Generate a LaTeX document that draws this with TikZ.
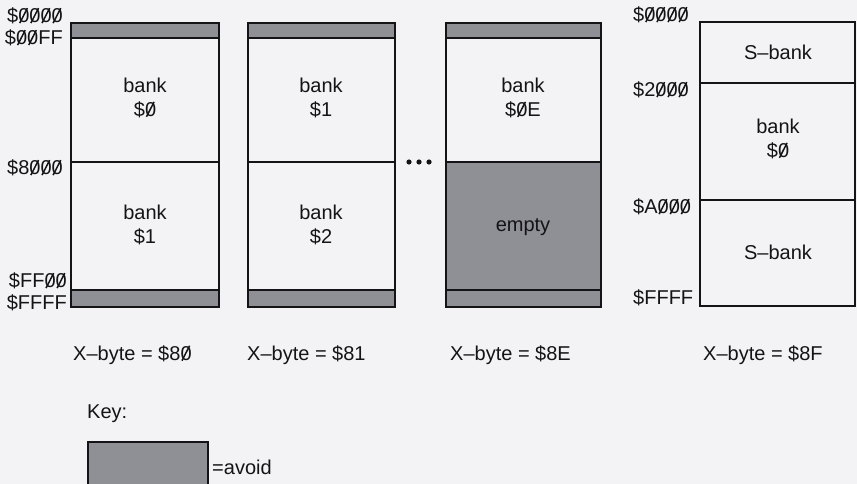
\documentclass[tikz,border=0pt]{standalone}
\usepackage{fontspec}
\setmainfont{Liberation Sans}
\usepackage{tikz}
\definecolor{avoidgray}{RGB}{143,143,150}
\definecolor{paper}{RGB}{243,243,245}
\definecolor{ink}{RGB}{20,20,22}
% slashed zero as printed in the map (slash is a rule, the digit stays text)
\newcommand{\zo}{\makebox[0pt][l]{\kern0.04em\raisebox{-0.03em}{\rotatebox{63}{\rule{0.84em}{0.075em}}}}0}

\begin{document}
\begin{tikzpicture}[x=1pt,y=-1pt,
    box/.style={line width=2.6pt,draw=ink},
    avoid/.style={fill=avoidgray},
    txt/.style={text=ink,font=\fontsize{20}{24}\selectfont,inner sep=0pt},
    bank/.style={txt,align=center}]
  \fill[paper] (0,0) rectangle (857,484);
  \useasboundingbox (0,0) rectangle (857,484);
  % banks $0/$1 and $1/$2
  \foreach \xl/\xr in {71/219,248/395}{
    \fill[avoid] (\xl,23) rectangle (\xr,38);
    \fill[avoid] (\xl,290) rectangle (\xr,307);
    \draw[box] (\xl,38) -- (\xr,38) (\xl,162) -- (\xr,162) (\xl,290) -- (\xr,290);
    \draw[box] (\xl,23) rectangle (\xr,307);
  }
  % bank $0E, upper half empty
  \fill[avoid] (446,23) rectangle (601,38);
  \fill[avoid] (446,162) rectangle (601,307);
  \draw[box] (446,38) -- (601,38) (446,162) -- (601,162) (446,290) -- (601,290);
  \draw[box] (446,23) rectangle (601,307);
  % S-bank column
  \draw[box] (700,83) -- (855,83) (700,200) -- (855,200);
  \draw[box] (700,22) rectangle (855,306);
  \foreach \xd in {409,419,429}
    \fill[ink] (\xd,162) circle (2.6pt);

  \node[bank] (b0) at (145,98) {bank\\\$\zo};
  \node[bank] (b1) at (145,225) {bank\\\$1};
  \node[bank] (b1b) at (321,98) {bank\\\$1};
  \node[bank] (b2) at (321,225) {bank\\\$2};
  \node[bank] (b0e) at (523,98) {bank\\\$\zo E};
  \node[txt] (empty) at (523,227) {empty};
  \node[txt] (stop) at (778,52) {S--bank};
  \node[bank] (b0s) at (778,139) {bank\\\$\zo};
  \node[txt] (sbot) at (778,252) {S--bank};

  \node[txt,anchor=east] (a1) at (63,16) {\$\zo\zo\zo\zo};
  \node[txt,anchor=east] (a2) at (63,38) {\$\zo\zo FF};
  \node[txt,anchor=east] (a3) at (63,168) {\$8\zo\zo\zo};
  \node[txt,anchor=east] (a4) at (67,281) {\$FF\zo\zo};
  \node[txt,anchor=east] (a5) at (67,303) {\$FFFF};
  \node[txt,anchor=west] (s1) at (633,15) {\$\zo\zo\zo\zo};
  \node[txt,anchor=west] (s2) at (633,90) {\$2\zo\zo\zo};
  \node[txt,anchor=west] (s3) at (633,207) {\$A\zo\zo\zo};
  \node[txt,anchor=west] (s4) at (633,298) {\$FFFF};

  \node[txt,anchor=west] (x0) at (73,355) {X--byte = \$8\zo};
  \node[txt,anchor=west] (x1) at (247,355) {X--byte = \$81};
  \node[txt,anchor=west] (x2) at (450,355) {X--byte = \$8E};
  \node[txt,anchor=west] (x3) at (703,355) {X--byte = \$8F};

  \node[txt,anchor=west] (key) at (87,414) {Key:};
  \fill[avoid] (88,442) rectangle (208,484);
  \draw[box] (88,484) |- (208,442) -- (208,484);
  \node[txt,anchor=west] (avd) at (212,467) {=avoid};
\end{tikzpicture}
\end{document}
